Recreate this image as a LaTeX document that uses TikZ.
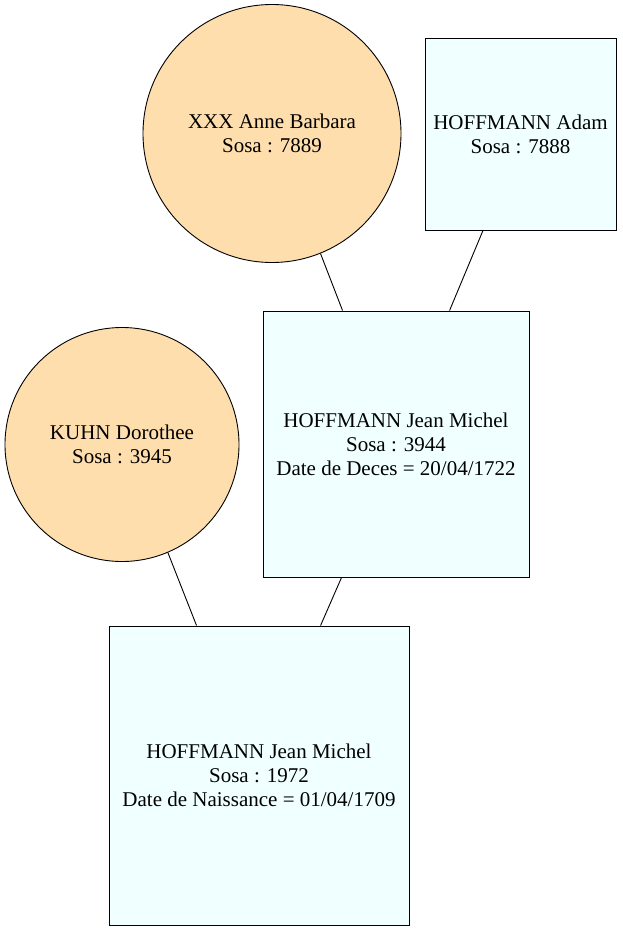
\documentclass[tikz,border=0pt]{standalone}
\usepackage{fontspec}
\setmainfont{Liberation Serif}
\usetikzlibrary{calc}
\definecolor{nav}{HTML}{FFDEAD}
\definecolor{az}{HTML}{F0FFFF}
\begin{document}
\begin{tikzpicture}[x=1pt,y=-1pt,
 person/.style={draw=black, line width=0.9pt, align=center, font=\fontsize{21}{24}\selectfont, inner sep=0pt},
 fem/.style={person, circle, fill=nav},
 mal/.style={person, rectangle, fill=az},
 link/.style={draw=black, line width=0.9pt}]
\fill[white] (0,0) rectangle (622,932);
\useasboundingbox (0,0) rectangle (622,932);
\node[fem, minimum size=258pt] (anne) at (272,133.5) {XXX Anne Barbara\\Sosa : 7889};
\node[mal, minimum width=191pt, minimum height=192pt] (adam) at (520.5,134) {HOFFMANN Adam\\Sosa : 7888};
\node[mal, minimum width=266pt, minimum height=266pt] (jm1) at (396,444) {HOFFMANN Jean Michel\\Sosa : 3944\\Date de Deces = 20/04/1722};
\node[fem, minimum size=234pt] (kuhn) at (122,444.5) {KUHN Dorothee\\Sosa : 3945};
\node[mal, minimum width=300pt, minimum height=299pt] (jm2) at (259,775.5) {HOFFMANN Jean Michel\\Sosa : 1972\\Date de Naissance = 01/04/1709};
\draw[link] (anne.-68) -- ($(jm1.north west)+(80,0)$);
\draw[link] ($(adam.south)+(-37.5,0)$) -- ($(jm1.north west)+(187,0)$);
\draw[link] (kuhn.-67) -- ($(jm2.north west)+(88,0)$);
\draw[link] ($(jm1.south west)+(79,0)$) -- ($(jm2.north west)+(212,0)$);
\end{tikzpicture}
\end{document}
